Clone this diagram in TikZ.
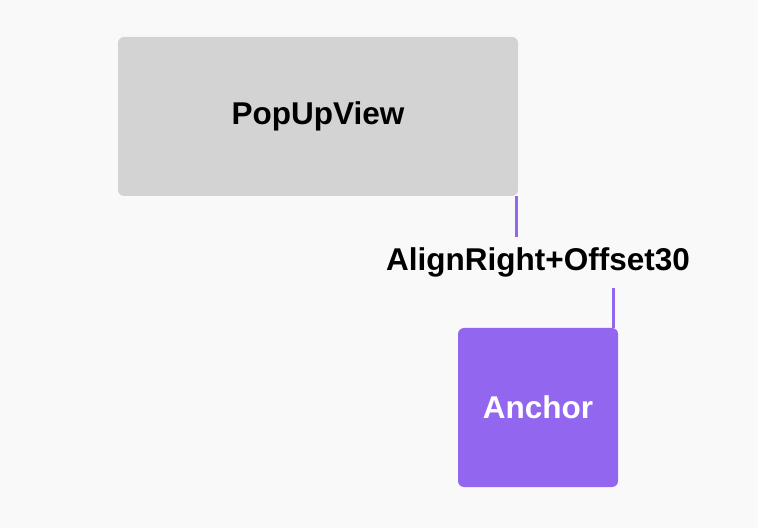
\documentclass[tikz,border=0pt]{standalone}
\usepackage{fontspec}
\setmainfont{Liberation Sans}
\definecolor{bgcol}{HTML}{F9F9F9}
\definecolor{popgray}{HTML}{D3D3D3}
\definecolor{anchorpurple}{HTML}{9366F0}
\tikzset{
    box/.style={rounded corners=6pt, inner sep=0pt, font=\fontsize{31.5}{36}\selectfont\bfseries},
    link/.style={draw=anchorpurple, line width=3pt},
}
\begin{document}
\begin{tikzpicture}[x=1pt, y=1pt]
    \fill[bgcol] (0,0) rectangle (758,528);
    \useasboundingbox (0,0) rectangle (758,528);

    \node[box, fill=popgray, minimum width=400pt, minimum height=159pt] (pop) at (318,411.5) {PopUpView};
    \node[box, fill=anchorpurple, text=white, minimum width=160pt, minimum height=159pt] (anchor) at (538,120.5) {Anchor};
    \node[inner sep=0pt, minimum height=51pt, font=\fontsize{31.5}{36}\selectfont\bfseries] (lbl) at (538,265.5) {AlignRight+Offset30};

    \draw[link] ([xshift=-1.5pt]pop.south east) -- ([xshift=-1.5pt]pop.south east |- lbl.north);
    \draw[link] ([xshift=-5pt]anchor.north east) -- ([xshift=-5pt]anchor.north east |- lbl.south);
\end{tikzpicture}
\end{document}
